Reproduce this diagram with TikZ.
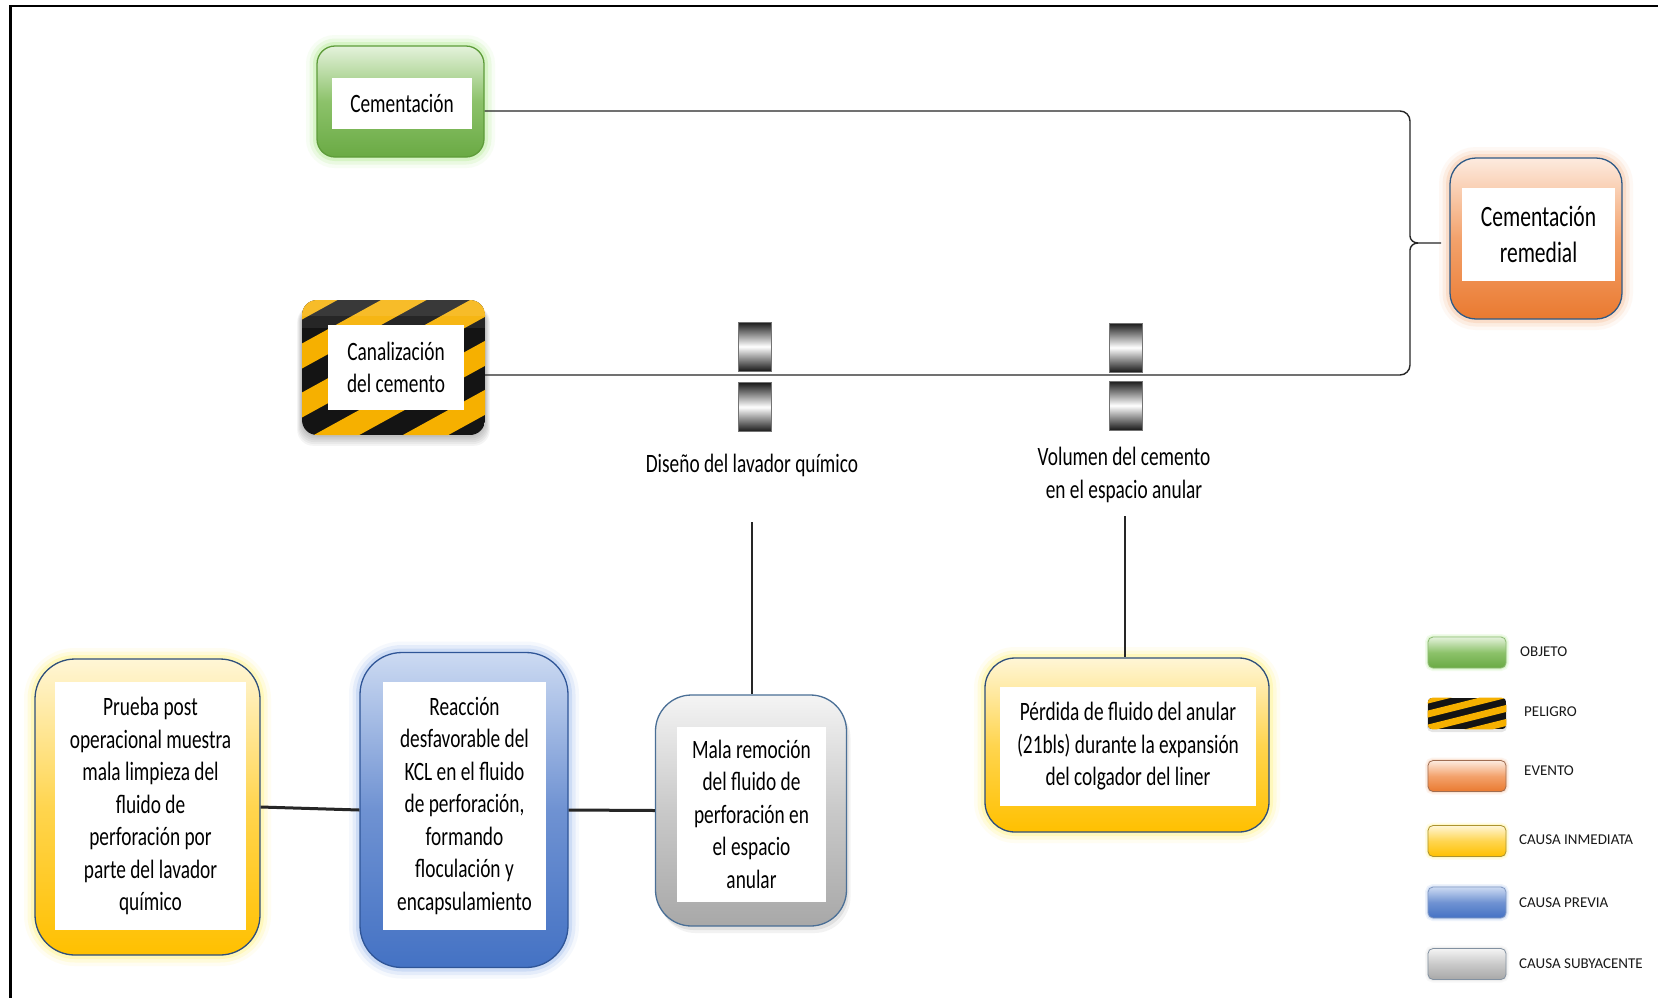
\documentclass[tikz,border=0pt]{standalone}
\usepackage{fontspec}
\setmainfont{Carlito}
\newfontfamily\narrowfont[FakeStretch=0.73]{Carlito}
\newfontfamily\legendfont{Carlito}

% palette
\definecolor{grnedge}{HTML}{5E9C3A}
\definecolor{grntop}{HTML}{E4F2DB}
\definecolor{grnmid}{HTML}{8CC26A}
\definecolor{grnbot}{HTML}{6AAA44}
\definecolor{grnglow}{HTML}{B6EC96}
\definecolor{orgedge}{HTML}{2F5A86}
\definecolor{orgtop}{HTML}{FDEBDF}
\definecolor{orgmid}{HTML}{F3A26C}
\definecolor{orgbot}{HTML}{EA7A30}
\definecolor{orgglow}{HTML}{F8C29C}
\definecolor{yeledge}{HTML}{2F4F7A}
\definecolor{yeltop}{HTML}{FFF6D6}
\definecolor{yelmid}{HTML}{FFD54F}
\definecolor{yelbot}{HTML}{FFC000}
\definecolor{yelglow}{HTML}{FFF383}
\definecolor{bluedge}{HTML}{2F5597}
\definecolor{blutop}{HTML}{CCDAF2}
\definecolor{blumid}{HTML}{6F92D2}
\definecolor{blubot}{HTML}{4472C4}
\definecolor{bluglow}{HTML}{A3C0EE}
\definecolor{gryedge}{HTML}{4A6F96}
\definecolor{grytop}{HTML}{F4F4F4}
\definecolor{grymid}{HTML}{C9C9C9}
\definecolor{grybot}{HTML}{A8A8A8}
\definecolor{hazyel}{HTML}{F6B000}

\tikzset{
  glow/.style={
    preaction={draw=#1, line width=22pt, opacity=.10},
    preaction={draw=#1, line width=15pt, opacity=.20},
    preaction={draw=#1, line width=8pt, opacity=.35}},
  smallglow/.style={
    preaction={draw=#1, line width=6pt, opacity=.18},
    preaction={draw=#1, line width=3pt, opacity=.30}},
  softshadow/.style={
    preaction={fill=black, opacity=.05, transform canvas={xshift=4pt, yshift=-7pt}},
    preaction={fill=black, opacity=.07, transform canvas={xshift=2pt, yshift=-4pt}}},
  boxbase/.style={inner sep=0pt, line width=1.3pt},
  objbox/.style={boxbase, draw=grnedge, top color=grntop, bottom color=grnbot, middle color=grnmid, glow=grnglow},
  evtbox/.style={boxbase, draw=orgedge, top color=orgtop, bottom color=orgbot, middle color=orgmid, glow=orgglow},
  immbox/.style={boxbase, draw=yeledge, top color=yeltop, bottom color=yelbot, middle color=yelmid, glow=yelglow},
  prvbox/.style={boxbase, draw=bluedge, top color=blutop, bottom color=blubot, middle color=blumid, glow=bluglow},
  subbox/.style={boxbase, draw=gryedge, top color=grytop, bottom color=grybot, middle color=grymid, softshadow},
  panel/.style={fill=white, inner sep=0pt, align=center, text=black,
    font=\narrowfont\fontsize{26.5}{32.5}\selectfont},
  caption/.style={inner sep=0pt, align=center, text=black,
    font=\narrowfont\fontsize{26.5}{33}\selectfont},
  barrier/.style={draw=black!55, line width=.6pt, inner sep=0pt,
    minimum width=33pt, minimum height=49pt,
    top color=black!90, bottom color=black!90, middle color=white},
  swatch/.style={inner sep=0pt, line width=.8pt, minimum width=78pt, minimum height=31pt, rounded corners=5pt},
  legendlabel/.style={anchor=west, inner sep=0pt, text=black!90,
    font=\legendfont\fontsize{15}{16}\selectfont},
  thinlink/.style={draw=black!85, line width=1.6pt},
  thicklink/.style={draw=black!85, line width=3pt},
}

\begin{document}
\begin{tikzpicture}[x=1pt, y=-1pt]
\useasboundingbox (0,0) rectangle (1658,997);
\fill[white] (0,0) rectangle (1658,997);

% outer frame
\draw[line width=2.6pt] (10.5,1010) -- (10.5,6) -- (1670,6);

% ---------- hazard ----------
\node[inner sep=0pt, minimum width=183pt, minimum height=135pt] (can) at (393.5,367.5) {};
\foreach \s in {1,...,6}
  \fill[black, opacity=.045, rounded corners=16pt] ({302-\s*0.8},306) rectangle ({485+\s*0.8},{435+\s*1.8});
\begin{scope}
  \clip[rounded corners=15pt] (302,300) rectangle (485,435);
  \fill[black!92] (302,300) rectangle (485,435);
  \foreach \k in {-3,...,6}{
    \pgfmathsetmacro\c{356+49*\k}
    \fill[hazyel] (290,{\c+6.6-12.5}) -- (500,{\c-108.9-12.5}) -- (500,{\c-108.9+12.5}) -- (290,{\c+6.6+12.5}) -- cycle;
  }
  \fill[white, opacity=.16] (302,300) rectangle (485,316);
  \fill[white, opacity=.08] (302,316) rectangle (485,328);
\end{scope}
\node[panel, minimum width=136pt, minimum height=85pt] (cant) at (396,367.5) {Canalización\\del cemento};

% ---------- object ----------
\node[objbox, rounded corners=18pt, minimum width=167pt, minimum height=111pt] (cem) at (400.5,101.5) {};
\node[panel, minimum width=140pt, minimum height=51pt] (cemt) at (402,103.5) {Cementación};

% ---------- event ----------
\node[evtbox, rounded corners=26pt, minimum width=172pt, minimum height=161pt] (rem) at (1536,238.5) {};
\node[panel, minimum width=153pt, minimum height=93pt, font=\narrowfont\fontsize{29.5}{36}\selectfont] (remt) at (1538.5,234) {Cementación\\remedial};

% ---------- brace joining both branches ----------
\coordinate (btop) at (1410,111);
\coordinate (bbot) at (1410,375);
\coordinate (btip) at (1441,243);
\draw[thinlink, line width=1.4pt] (cem.east |- btop) -- (1400,111) to[out=0,in=90] (1410,121) -- (1410,236)
      to[out=-90,in=180] (1418,243) -- (btip);
\draw[thinlink, line width=1.4pt] (can.east |- bbot) -- (1400,375) to[out=0,in=-90] (1410,365) -- (1410,250)
      to[out=90,in=180] (1418,243);

% ---------- barriers ----------
\node[barrier] (b1u) at (755,346.5) {};
\node[barrier] (b1l) at (755,407) {};
\node[barrier] (b2u) at (1126,347.5) {};
\node[barrier] (b2l) at (1126,405.5) {};

\node[caption] (lab1) at (752,465) {Diseño del lavador químico};
\node[caption] (lab2) at (1124,474.5) {Volumen del cemento\\en el espacio anular};

% ---------- causes ----------
\node[immbox, rounded corners=40pt, minimum width=225pt, minimum height=296pt] (prueba) at (147.5,807) {};
\node[panel, minimum width=191pt, minimum height=248pt] (pruebat) at (150.5,806)
  {Prueba post\\operacional muestra\\mala limpieza del\\fluido de\\perforación por\\parte del lavador\\químico};

\node[prvbox, rounded corners=42pt, minimum width=208pt, minimum height=315pt] (reac) at (464,810) {};
\node[panel, minimum width=163pt, minimum height=248pt] (react) at (464.5,806)
  {Reacción\\desfavorable del\\KCL en el fluido\\de perforación,\\formando\\floculación y\\encapsulamiento};

\node[subbox, rounded corners=36pt, minimum width=191pt, minimum height=231pt] (mala) at (751,810.5) {};
\node[panel, minimum width=149pt, minimum height=175pt] (malat) at (751.5,814)
  {Mala remoción\\del fluido de\\perforación en\\el espacio\\anular};

\node[immbox, rounded corners=30pt, minimum width=284pt, minimum height=174pt] (perd) at (1127,745) {};
\node[panel, minimum width=256pt, minimum height=119pt] (perdt) at (1128,746.5)
  {Pérdida de fluido del anular\\(21bls) durante la expansión\\del colgador del liner};

% ---------- connectors ----------
\draw[thicklink] (prueba.east) -- (reac.west);
\draw[thicklink] (reac.east) -- (mala.west);
\coordinate (d1) at (752,522);
\coordinate (d2) at (1125,516);
\draw[thinlink, line width=1.3pt] (d1) -- (d1 |- mala.north);
\draw[thinlink, line width=1.3pt] (d2) -- (d2 |- perd.north);

% ---------- legend ----------
\node[swatch, draw=grnedge!70, top color=grntop, bottom color=grnbot, middle color=grnmid, smallglow=grnglow] (s1) at (1467,652.5) {};
\node[swatch] (s2) at (1467,713.5) {};
\fill[black, opacity=.10, rounded corners=5pt] (1427,701) rectangle (1507,732);
\begin{scope}
  \clip[rounded corners=5pt] (s2.south west) rectangle (s2.north east);
  \fill[black!92] (s2.south west) rectangle (s2.north east);
  \foreach \k in {-1,...,5}{
    \pgfmathsetmacro\c{700+14*\k}
    \fill[hazyel] (1420,{\c+2-3.5}) -- (1515,{\c-21.75-3.5}) -- (1515,{\c-21.75+3.5}) -- (1420,{\c+2+3.5}) -- cycle;
  }
\end{scope}
\node[swatch, draw=orgedge!40!orgbot, top color=orgtop, bottom color=orgbot, middle color=orgmid, smallglow=orgglow] (s3) at (1467,776) {};
\node[swatch, draw=yeledge!40!yelbot, top color=yeltop, bottom color=yelbot, middle color=yelmid, smallglow=yelglow] (s4) at (1467,841) {};
\node[swatch, draw=bluedge!60, top color=blutop, bottom color=blubot, middle color=blumid, smallglow=bluglow] (s5) at (1467,902.5) {};
\node[swatch, draw=gryedge!40!grybot, top color=grytop, bottom color=grybot, middle color=grymid, smallglow=black!15] (s6) at (1467,964) {};

\node[legendlabel] (l1) at (1520,652) {OBJETO};
\node[legendlabel] (l2) at (1524,712) {PELIGRO};
\node[legendlabel] (l3) at (1524,771) {EVENTO};
\node[legendlabel] (l4) at (1519,840) {CAUSA INMEDIATA};
\node[legendlabel] (l5) at (1519,903) {CAUSA PREVIA};
\node[legendlabel] (l6) at (1519,964) {CAUSA SUBYACENTE};
\end{tikzpicture}
\end{document}
